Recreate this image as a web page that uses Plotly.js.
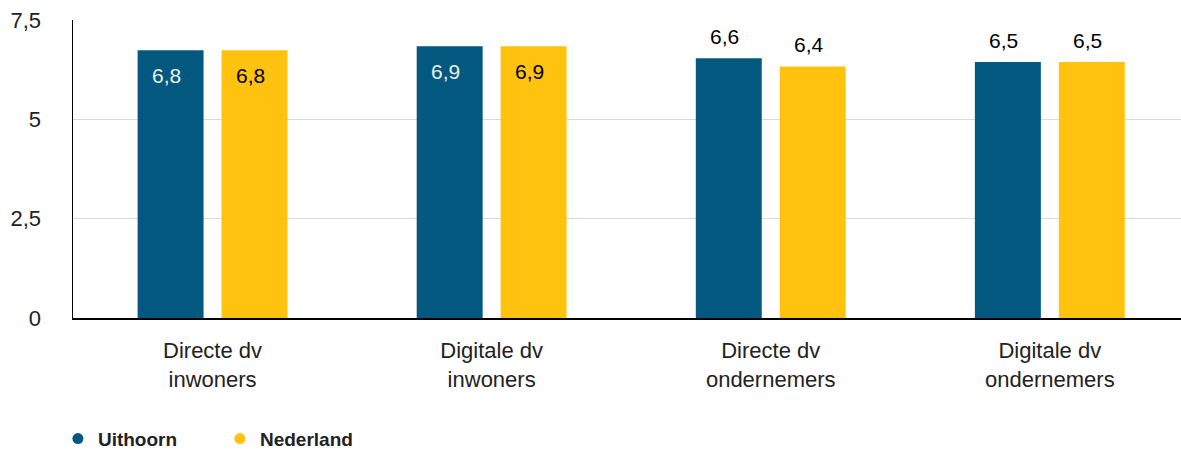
<!DOCTYPE html>
<html>
<head>
<meta charset="utf-8">
<script src="https://cdn.plot.ly/plotly-3.0.1.min.js"></script>
<style>html,body{margin:0;padding:0;background:#fff;}#chart{width:1181px;height:449px;}</style>
</head>
<body>
<div id="chart"></div>
<script>
var categories = ["Directe dv<br>inwoners", "Digitale dv<br>inwoners", "Directe dv<br>ondernemers", "Digitale dv<br>ondernemers"];
var seriesNames = ["Uithoorn", "Nederland"];
var uithoorn = [6.74, 6.84, 6.54, 6.44];
var nederland = [6.74, 6.84, 6.33, 6.44];
var uithoornLabels = ["6,8", "6,9", "6,6", "6,5"];
var nederlandLabels = ["6,8", "6,9", "6,4", "6,5"];
var labelInside = [true, true, false, false];
var yTickVals = [0, 2.5, 5, 7.5];
var yTickText = ["0", "2,5", "5", "7,5"];

var blue = "#02587F";
var yellow = "#FFC20E";
var font = "Arial, 'Liberation Sans', sans-serif";

var traces = [
  {type: "bar", x: categories, y: uithoorn, name: seriesNames[0], marker: {color: blue},
   width: 0.2363, offset: -0.2685, showlegend: false, hoverinfo: "skip"},
  {type: "bar", x: categories, y: nederland, name: seriesNames[1], marker: {color: yellow},
   width: 0.2363, offset: 0.0322, showlegend: false, hoverinfo: "skip"},
  {type: "scatter", mode: "markers", x: [null], y: [null], name: seriesNames[0],
   marker: {color: blue, size: 11, symbol: "circle"}},
  {type: "scatter", mode: "markers", x: [null], y: [null], name: seriesNames[1],
   marker: {color: yellow, size: 11, symbol: "circle"}}
];

var annotations = [];
function addLabels(vals, labels, xs, insideColor) {
  for (var i = 0; i < categories.length; i++) {
    var inside = labelInside[i];
    annotations.push({
      x: categories[i], y: vals[i], xref: "x", yref: "y",
      text: labels[i], showarrow: false, xshift: xs,
      yanchor: "middle", yshift: inside ? -25 : 22,
      font: {family: font, size: 21, color: inside ? insideColor : "#000000"}
    });
  }
}
addLabels(uithoorn, uithoornLabels, -46, "#EEEEEE");
addLabels(nederland, nederlandLabels, 38, "#000000");

var layout = {
  width: 1181, height: 449,
  margin: {l: 73, r: 0, t: 20, b: 131, pad: 0, autoexpand: false},
  paper_bgcolor: "#ffffff", plot_bgcolor: "#ffffff",
  barmode: "overlay",
  font: {family: font, size: 22, color: "#222222"},
  xaxis: {
    type: "category", range: [-0.5, 3.47], automargin: false,
    showline: true, linecolor: "#000000", linewidth: 1.5,
    showgrid: false, zeroline: false, ticks: "",
    tickfont: {family: font, size: 22, color: "#222222"},
    ticklabelstandoff: 12
  },
  yaxis: {
    range: [0, 7.5], tickvals: yTickVals, ticktext: yTickText, automargin: false,
    showline: true, linecolor: "#000000", linewidth: 1.5,
    showgrid: true, gridcolor: "#D9D9D9", gridwidth: 1.5,
    zeroline: false, ticks: "",
    tickfont: {family: font, size: 22, color: "#222222"},
    ticklabelstandoff: 26
  },
  legend: {
    orientation: "h", x: -0.0136, xanchor: "left", y: -0.405, yanchor: "middle",
    font: {family: font, size: 19, color: "#222222", weight: "bold"},
    entrywidth: 117, entrywidthmode: "pixels",
    bgcolor: "rgba(0,0,0,0)"
  },
  annotations: annotations,
  showlegend: true
};

Plotly.newPlot("chart", traces, layout, {displayModeBar: false, staticPlot: true});
</script>
</body>
</html>
